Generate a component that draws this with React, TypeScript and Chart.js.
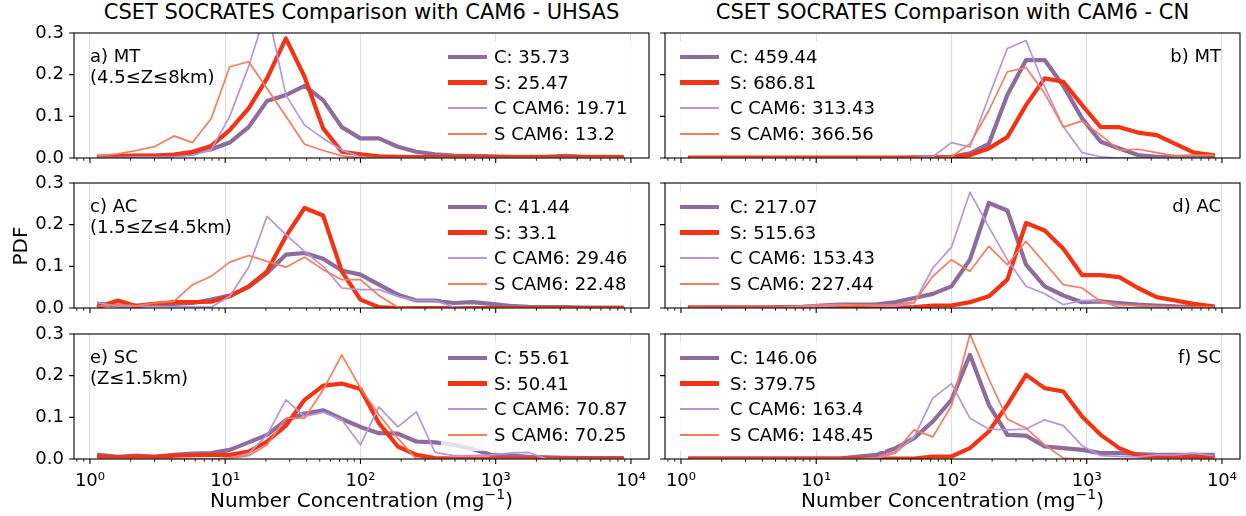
import React, { useEffect, useRef } from 'react';
import { Chart, registerables } from 'chart.js';

Chart.register(...registerables);

// ---------- data ----------
const BIN_CENTERS = [1.17, 1.61, 2.21, 3.04, 4.18, 5.74, 7.88, 10.8, 14.9, 20.4, 28.1, 38.6, 53.0, 72.8, 100, 137, 189, 259, 356, 489, 672, 924, 1269, 1743, 2395, 3290, 4520, 6210, 8532];
const X_MIN = 0.762;
const X_MAX = 13600;
const X_TICKS = [0.8, 0.9, 1, 2, 3, 4, 5, 6, 7, 8, 9, 10, 20, 30, 40, 50, 60, 70, 80, 90, 100, 200, 300, 400, 500, 600, 700, 800, 900, 1000, 2000, 3000, 4000, 5000, 6000, 7000, 8000, 9000, 10000];
const X_MAJOR = [1, 10, 100, 1000, 10000];
const X_MAJOR_LABELS = ['10⁰', '10¹', '10²', '10³', '10⁴'];
const Y_TICKS = [0, 0.1, 0.2, 0.3];
const Y_TICK_LABELS = ['0.0', '0.1', '0.2', '0.3'];

const SERIES_NAMES = ['C', 'S', 'C CAM6', 'S CAM6'];

// a) MT, UHSAS
const A_C = [0.003, 0.004, 0.005, 0.005, 0.007, 0.013, 0.021, 0.037, 0.074, 0.137, 0.151, 0.173, 0.139, 0.074, 0.047, 0.047, 0.027, 0.015, 0.009, 0.006, 0.005, 0.004, 0.003, 0.003, 0.003, 0.005, 0.003, 0.003, 0.002];
const A_S = [0.003, 0.005, 0.006, 0.006, 0.008, 0.015, 0.029, 0.067, 0.119, 0.191, 0.287, 0.195, 0.071, 0.015, 0.009, 0.004, 0.003, 0.002, 0.002, 0.002, 0.002, 0.002, 0.002, 0.002, 0.002, 0.002, 0.002, 0.002, 0.002];
const A_CCAM = [0.001, 0.001, 0.002, 0.002, 0.003, 0.006, 0.02, 0.1, 0.22, 0.36, 0.151, 0.079, 0.047, 0.019, 0.003, 0, 0, 0, 0, 0, 0, 0, 0, 0, 0, 0, 0, 0, 0];
const A_SCAM = [0.005, 0.01, 0.018, 0.028, 0.053, 0.037, 0.095, 0.219, 0.231, 0.167, 0.1, 0.033, 0.018, 0.005, 0.001, 0, 0, 0, 0, 0, 0, 0, 0, 0, 0, 0, 0, 0, 0];
const A_MEANS = ['35.73', '25.47', '19.71', '13.2'];

// b) MT, CN
const B_C = [0, 0, 0, 0, 0, 0, 0, 0, 0, 0, 0, 0, 0.001, 0.001, 0.003, 0.011, 0.034, 0.151, 0.235, 0.235, 0.173, 0.095, 0.039, 0.023, 0.007, 0.003, 0.003, 0.003, 0.002];
const B_S = [0.001, 0.001, 0.001, 0.001, 0.001, 0.001, 0.001, 0.001, 0.001, 0.001, 0.001, 0.001, 0.001, 0.001, 0.001, 0.007, 0.023, 0.05, 0.127, 0.191, 0.183, 0.127, 0.074, 0.074, 0.061, 0.055, 0.034, 0.013, 0.007];
const B_CCAM = [0, 0, 0, 0, 0, 0, 0, 0, 0, 0, 0, 0, 0.001, 0.003, 0.037, 0.026, 0.147, 0.263, 0.282, 0.171, 0.075, 0.013, 0.003, 0, 0, 0, 0, 0, 0];
const B_SCAM = [0, 0, 0, 0, 0, 0, 0, 0, 0, 0, 0, 0, 0, 0, 0.003, 0.034, 0.114, 0.207, 0.217, 0.155, 0.074, 0.089, 0.055, 0.019, 0.021, 0.013, 0.005, 0.007, 0.007];
const B_MEANS = ['459.44', '686.81', '313.43', '366.56'];

// c) AC, UHSAS
const C_C = [0.01, 0.006, 0.006, 0.01, 0.01, 0.012, 0.02, 0.03, 0.05, 0.084, 0.128, 0.132, 0.118, 0.09, 0.08, 0.056, 0.032, 0.018, 0.018, 0.012, 0.014, 0.01, 0.005, 0.003, 0.002, 0.002, 0.001, 0.001, 0.001];
const C_S = [0.003, 0.018, 0.004, 0.01, 0.014, 0.014, 0.015, 0.028, 0.052, 0.088, 0.172, 0.24, 0.222, 0.088, 0.02, 0.002, 0, 0, 0, 0, 0, 0, 0, 0, 0, 0, 0, 0, 0];
const C_CCAM = [0.012, 0.004, 0.004, 0.004, 0.003, 0.003, 0.002, 0.028, 0.098, 0.22, 0.176, 0.136, 0.1, 0.048, 0.044, 0.044, 0.028, 0.018, 0.018, 0.002, 0, 0, 0, 0, 0, 0, 0, 0, 0];
const C_SCAM = [0.004, 0.008, 0.005, 0.012, 0.016, 0.056, 0.076, 0.11, 0.126, 0.112, 0.098, 0.122, 0.092, 0.068, 0.068, 0.03, 0.002, 0, 0, 0, 0, 0, 0, 0, 0, 0, 0, 0, 0];
const C_MEANS = ['41.44', '33.1', '29.46', '22.48'];

// d) AC, CN
const D_C = [0.001, 0.001, 0.001, 0.001, 0.001, 0.002, 0.003, 0.006, 0.008, 0.008, 0.009, 0.014, 0.024, 0.034, 0.052, 0.116, 0.252, 0.234, 0.104, 0.052, 0.03, 0.014, 0.016, 0.012, 0.008, 0.006, 0.004, 0.003, 0.002];
const D_S = [0.001, 0.001, 0.001, 0.001, 0.001, 0.001, 0.001, 0.001, 0.001, 0.001, 0.001, 0.001, 0.002, 0.006, 0.006, 0.014, 0.028, 0.068, 0.204, 0.186, 0.142, 0.079, 0.079, 0.074, 0.048, 0.026, 0.018, 0.01, 0.004];
const D_CCAM = [0.001, 0.001, 0.001, 0.001, 0.001, 0.001, 0.002, 0.004, 0.006, 0.006, 0.005, 0.004, 0.012, 0.096, 0.146, 0.278, 0.194, 0.116, 0.052, 0.034, 0.008, 0.018, 0.016, 0.002, 0, 0, 0, 0, 0];
const D_SCAM = [0.001, 0.001, 0.001, 0.001, 0.001, 0.002, 0.005, 0.008, 0.008, 0.007, 0.007, 0.008, 0.014, 0.076, 0.116, 0.088, 0.148, 0.104, 0.16, 0.108, 0.056, 0.048, 0.016, 0.008, 0.006, 0.004, 0.003, 0.002, 0.002];
const D_MEANS = ['217.07', '515.63', '153.43', '227.44'];

// e) SC, UHSAS
const E_C = [0.01, 0.005, 0.008, 0.005, 0.01, 0.013, 0.014, 0.022, 0.04, 0.058, 0.093, 0.109, 0.117, 0.096, 0.077, 0.062, 0.061, 0.042, 0.04, 0.034, 0.024, 0.01, 0.008, 0.005, 0.004, 0.003, 0.002, 0.002, 0.002];
const E_S = [0.006, 0.004, 0.005, 0.005, 0.008, 0.009, 0.01, 0.01, 0.018, 0.042, 0.08, 0.142, 0.176, 0.181, 0.168, 0.086, 0.03, 0.01, 0.002, 0.001, 0.001, 0.001, 0.001, 0.001, 0.001, 0.001, 0.001, 0.001, 0.001];
const E_CCAM = [0, 0, 0, 0, 0, 0, 0, 0.002, 0.013, 0.058, 0.142, 0.102, 0.112, 0.094, 0.034, 0.125, 0.077, 0.113, 0.016, 0.008, 0.008, 0.01, 0.014, 0.016, 0, 0, 0, 0, 0];
const E_SCAM = [0, 0, 0, 0, 0, 0, 0, 0.002, 0.008, 0.034, 0.098, 0.098, 0.166, 0.25, 0.17, 0.106, 0.05, 0, 0, 0, 0, 0, 0, 0, 0, 0, 0, 0, 0];
const E_MEANS = ['55.61', '50.41', '70.87', '70.25'];

// f) SC, CN
const F_C = [0.001, 0.001, 0.001, 0.001, 0.001, 0.001, 0.001, 0.001, 0.001, 0.006, 0.01, 0.026, 0.05, 0.09, 0.142, 0.25, 0.13, 0.058, 0.056, 0.03, 0.026, 0.022, 0.014, 0.014, 0.012, 0.01, 0.01, 0.01, 0.01];
const F_S = [0.001, 0.001, 0.001, 0.001, 0.001, 0.001, 0.001, 0.001, 0.001, 0.001, 0.001, 0.001, 0.001, 0.006, 0.006, 0.026, 0.066, 0.13, 0.202, 0.17, 0.162, 0.102, 0.058, 0.026, 0.008, 0.006, 0.004, 0.004, 0.004];
const F_CCAM = [0, 0, 0, 0, 0, 0, 0, 0, 0, 0, 0.002, 0.014, 0.053, 0.146, 0.181, 0.098, 0.072, 0.07, 0.072, 0.094, 0.08, 0.032, 0.008, 0.006, 0.005, 0.01, 0.01, 0.014, 0.008];
const F_SCAM = [0, 0, 0, 0, 0, 0, 0, 0, 0, 0, 0.004, 0.018, 0.07, 0.053, 0.128, 0.3, 0.192, 0.096, 0.074, 0.034, 0.002, 0, 0, 0, 0, 0, 0, 0, 0];
const F_MEANS = ['146.06', '379.75', '163.4', '148.45'];

const TITLES = ['CSET SOCRATES Comparison with CAM6 - UHSAS', 'CSET SOCRATES Comparison with CAM6 - CN'];
const X_LABEL = 'Number Concentration (mg';
const Y_LABEL = 'PDF';

// ---------- style ----------
const FONT = '"DejaVu Sans", "Liberation Sans", sans-serif';
const COLORS = ['#8e6c9d', '#f23414', '#b795de', '#fa7a5c'];
const WIDTHS = [4.2, 4.2, 1.7, 1.7];
const PLOT_W = 575;
const PLOT_H = 125;
const COL_X = [74, 665];
const ROW_Y = [33, 183, 334];

type PanelDef = {
  col: number;
  row: number;
  series: number[][];
  means: string[];
  tag: string;
  sub?: string;
};

const PANELS: PanelDef[] = [
  { col: 0, row: 0, series: [A_C, A_S, A_CCAM, A_SCAM], means: A_MEANS, tag: 'a) MT', sub: '(4.5≤Z≤8km)' },
  { col: 1, row: 0, series: [B_C, B_S, B_CCAM, B_SCAM], means: B_MEANS, tag: 'b) MT' },
  { col: 0, row: 1, series: [C_C, C_S, C_CCAM, C_SCAM], means: C_MEANS, tag: 'c) AC', sub: '(1.5≤Z≤4.5km)' },
  { col: 1, row: 1, series: [D_C, D_S, D_CCAM, D_SCAM], means: D_MEANS, tag: 'd) AC' },
  { col: 0, row: 2, series: [E_C, E_S, E_CCAM, E_SCAM], means: E_MEANS, tag: 'e) SC', sub: '(Z≤1.5km)' },
  { col: 1, row: 2, series: [F_C, F_S, F_CCAM, F_SCAM], means: F_MEANS, tag: 'f) SC' },
];

const framePlugin = {
  id: 'mplFrame',
  afterDatasetsDraw(chart: any) {
    const { ctx, chartArea, scales } = chart;
    const { left, right, top, bottom } = chartArea;
    const xs = scales.x;
    const ys = scales.y;
    ctx.save();
    ctx.strokeStyle = '#000';
    ctx.lineWidth = 1.1;
    ctx.strokeRect(left, top, right - left, bottom - top);
    for (const v of X_TICKS) {
      const px = xs.getPixelForValue(v);
      if (px < left - 0.5 || px > right + 0.5) continue;
      const major = X_MAJOR.includes(v);
      ctx.beginPath();
      ctx.lineWidth = major ? 1.1 : 0.85;
      ctx.moveTo(px, bottom);
      ctx.lineTo(px, bottom + (major ? 4.9 : 2.8));
      ctx.stroke();
    }
    ctx.beginPath();
    ctx.lineWidth = 1.1;
    for (const v of Y_TICKS) {
      const py = ys.getPixelForValue(v);
      ctx.moveTo(left, py);
      ctx.lineTo(left - 4.9, py);
    }
    ctx.stroke();
    ctx.restore();
  },
};

function zeroPad(s: any) {
  s.paddingTop = 0;
  s.paddingBottom = 0;
  s.paddingLeft = 0;
  s.paddingRight = 0;
}

function PanelChart({ p }: { p: PanelDef }) {
  const ref = useRef<HTMLCanvasElement>(null);
  const bottomRow = p.row === 2;
  const padL = p.col === 0 ? 74 : 12;
  const padR = 6;
  const padT = 10;
  const padB = bottomRow ? 52 : 12;
  const cw = padL + PLOT_W + padR;
  const ch = padT + PLOT_H + padB;
  const canvasLeft = COL_X[p.col] - padL;
  const canvasTop = ROW_Y[p.row] - padT;

  useEffect(() => {
    if (!ref.current) return;
    const chart = new Chart(ref.current, {
      type: 'line',
      data: {
        datasets: SERIES_NAMES.map((name, k) => ({
          label: name,
          data: BIN_CENTERS.map((x, i) => ({ x, y: p.series[k][i] })),
          borderColor: COLORS[k],
          backgroundColor: COLORS[k],
          borderWidth: WIDTHS[k],
          pointRadius: 0,
          tension: 0,
          fill: false,
          order: 4 - k,
          clip: 0,
          borderJoinStyle: 'round',
          borderCapStyle: 'square',
        })),
      },
      options: {
        responsive: false,
        maintainAspectRatio: false,
        animation: false,
        events: [],
        layout: { padding: { left: 0, right: padR, top: padT, bottom: 0 } },
        plugins: { legend: { display: false }, tooltip: { enabled: false } },
        scales: {
          x: {
            type: 'logarithmic',
            min: X_MIN,
            max: X_MAX,
            afterBuildTicks: (s: any) => {
              s.ticks = X_TICKS.map((v) => ({ value: v, major: false }));
            },
            afterFit: (s: any) => {
              s.height = padB;
              zeroPad(s);
            },
            grid: {
              display: true,
              drawTicks: false,
              lineWidth: 1.1,
              color: (c: any) => (c.tick && X_MAJOR.includes(c.tick.value) ? '#dedede' : 'rgba(0,0,0,0)'),
            },
            border: { display: false },
            ticks: {
              display: bottomRow,
              autoSkip: false,
              maxRotation: 0,
              minRotation: 0,
              padding: 12,
              color: '#000',
              font: { family: FONT, size: 18 },
              callback: (v: any) => {
                const idx = X_MAJOR.indexOf(Number(v));
                return idx >= 0 ? X_MAJOR_LABELS[idx] : '';
              },
            },
          },
          y: {
            type: 'linear',
            min: 0,
            max: 0.3,
            afterBuildTicks: (s: any) => {
              s.ticks = Y_TICKS.map((v) => ({ value: v }));
            },
            afterFit: (s: any) => {
              s.width = padL;
              zeroPad(s);
            },
            grid: { display: false, drawTicks: false },
            border: { display: false },
            ticks: {
              display: p.col === 0,
              padding: 10,
              color: '#000',
              font: { family: FONT, size: 18 },
              callback: (v: any) => {
                const idx = Y_TICKS.findIndex((t) => Math.abs(t - Number(v)) < 1e-9);
                return idx >= 0 ? Y_TICK_LABELS[idx] : '';
              },
            },
          },
        },
      } as any,
      plugins: [framePlugin],
    });
    return () => chart.destroy();
  }, []);

  const frameLeft = p.col === 0 ? 441 : 673;
  const frameW = p.col === 0 ? 200 : 212;
  const frameTop = ROW_Y[p.row] + 8;
  const textRel = p.col === 0 ? 53 : 57;
  const fs = 18;

  return (
    <>
      <canvas
        ref={ref}
        width={cw}
        height={ch}
        style={{ position: 'absolute', left: canvasLeft, top: canvasTop, width: cw, height: ch }}
      />
      <div
        style={{
          position: 'absolute',
          left: frameLeft,
          top: frameTop,
          width: frameW,
          height: 109,
          background: 'rgba(255,255,255,0.8)',
        }}
      >
        {SERIES_NAMES.map((name, k) => {
          const cy = 15.7 + 25.8 * k;
          return (
            <React.Fragment key={name}>
              <div
                style={{
                  position: 'absolute',
                  left: 6.5,
                  top: cy - WIDTHS[k] / 2,
                  width: 39,
                  height: WIDTHS[k],
                  background: COLORS[k],
                }}
              />
              <div
                style={{
                  position: 'absolute',
                  left: textRel,
                  top: cy - fs / 2,
                  fontFamily: FONT,
                  fontSize: fs,
                  lineHeight: fs + 'px',
                  whiteSpace: 'nowrap',
                  color: '#000',
                }}
              >
                {name + ': ' + p.means[k]}
              </div>
            </React.Fragment>
          );
        })}
      </div>
      {p.col === 0 ? (
        <div
          style={{
            position: 'absolute',
            left: 90,
            top: ROW_Y[p.row] + 23.7 - 10.3,
            fontFamily: FONT,
            fontSize: fs,
            lineHeight: '20.6px',
            whiteSpace: 'nowrap',
            color: '#000',
          }}
        >
          <div>{p.tag}</div>
          <div>{p.sub}</div>
        </div>
      ) : (
        <div
          style={{
            position: 'absolute',
            left: 1221 - 200,
            width: 200,
            textAlign: 'right',
            top: ROW_Y[p.row] + 23 - fs / 2,
            fontFamily: FONT,
            fontSize: fs,
            lineHeight: fs + 'px',
            whiteSpace: 'nowrap',
            color: '#000',
          }}
        >
          {p.tag}
        </div>
      )}
    </>
  );
}

export default function App() {
  const centers = [COL_X[0] + PLOT_W / 2, COL_X[1] + PLOT_W / 2];
  return (
    <div style={{ position: 'absolute', left: 0, top: 0, width: 1246, height: 516, background: '#fff', overflow: 'hidden' }}>
      {TITLES.map((t, i) => (
        <div
          key={t}
          style={{
            position: 'absolute',
            left: centers[i] - 400,
            width: 800,
            top: 1.5,
            textAlign: 'center',
            fontFamily: FONT,
            fontSize: 21,
            lineHeight: '21px',
            whiteSpace: 'nowrap',
            color: '#000',
          }}
        >
          {t}
        </div>
      ))}
      {PANELS.map((p) => (
        <PanelChart key={p.tag} p={p} />
      ))}
      {centers.map((c, i) => (
        <div
          key={'xl' + i}
          style={{
            position: 'absolute',
            left: c - 300,
            width: 600,
            top: 490,
            textAlign: 'center',
            fontFamily: FONT,
            fontSize: 20,
            lineHeight: '20px',
            whiteSpace: 'nowrap',
            color: '#000',
          }}
        >
          {X_LABEL}
          <sup style={{ fontSize: 14, verticalAlign: 0, position: 'relative', top: -8 }}>−1</sup>)
        </div>
      ))}
      <div
        style={{
          position: 'absolute',
          left: 20 - 40,
          top: 246 - 10,
          width: 80,
          textAlign: 'center',
          fontFamily: FONT,
          fontSize: 20,
          lineHeight: '20px',
          transform: 'rotate(-90deg)',
          color: '#000',
        }}
      >
        {Y_LABEL}
      </div>
    </div>
  );
}
